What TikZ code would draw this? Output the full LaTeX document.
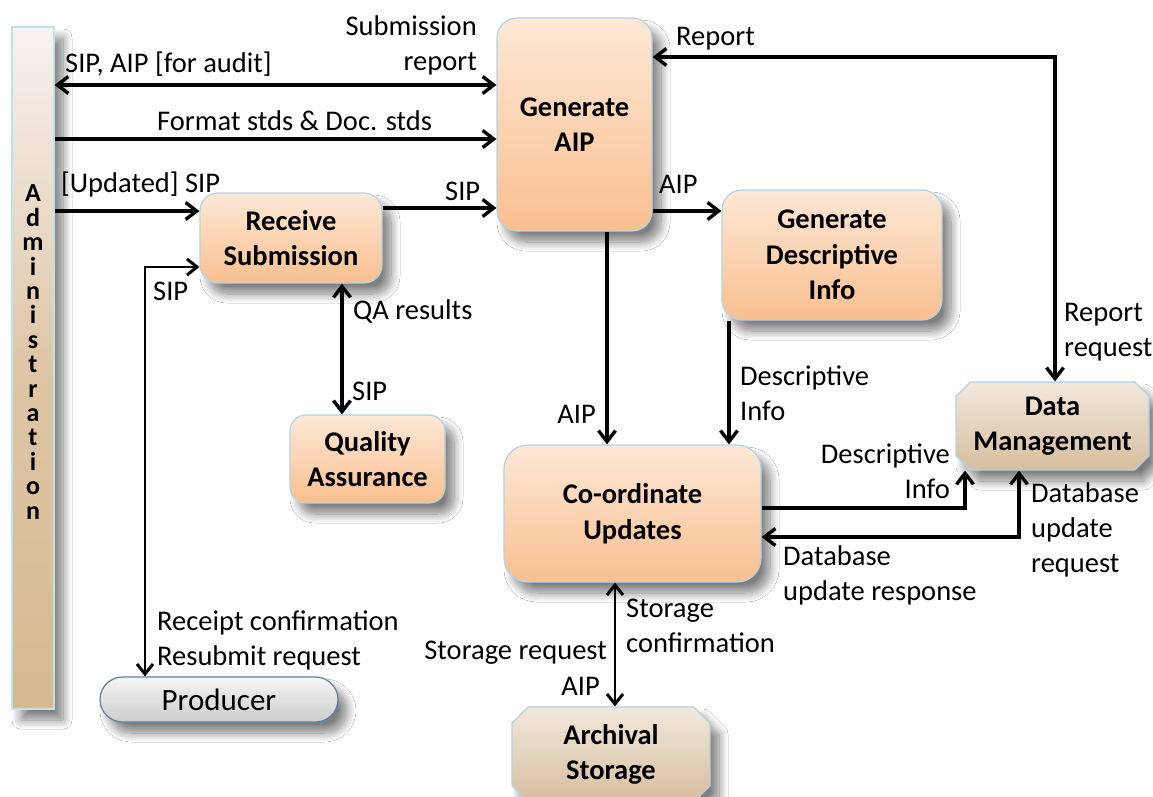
\documentclass[tikz,border=0pt]{standalone}
\usepackage{fontspec}
\setmainfont{Carlito}
\usetikzlibrary{arrows.meta,shapes.misc,shadows.blur}

\definecolor{peachtop}{HTML}{FDE8D6}
\definecolor{peachbot}{HTML}{F9BF8F}
\definecolor{peachrim}{HTML}{B5D3E4}
\definecolor{tantop}{HTML}{F2E8DC}
\definecolor{tanbot}{HTML}{D6BE9E}
\definecolor{admtop}{HTML}{F8F2F0}
\definecolor{admmid}{HTML}{DEC6A6}
\definecolor{admbot}{HTML}{D6B992}
\definecolor{admrim}{HTML}{BFE3EA}
\definecolor{greytop}{HTML}{F6F6F6}
\definecolor{greybot}{HTML}{CCCCCC}
\definecolor{greyrim}{HTML}{5F7FA6}

\newcommand\lblfont{\fontsize{28.5}{35}\selectfont}
\newcommand\boxfont{\bfseries\fontsize{28.5}{35.5}\selectfont}

\tikzset{
  boxshadow/.style={blur shadow={shadow xshift=9pt, shadow yshift=-11pt,
      shadow blur radius=9pt, shadow blur steps=12, shadow opacity=50}},
  proc/.style={draw=peachrim, line width=1.2pt, rounded corners=20pt,
      top color=peachtop, bottom color=peachbot, boxshadow,
      align=center, inner sep=0pt, font=\boxfont},
  store/.style={chamfered rectangle, chamfered rectangle xsep=11pt,
      draw=peachrim, line width=1.2pt, top color=tantop, bottom color=tanbot,
      boxshadow, align=center, inner sep=0pt, font=\boxfont},
  actor/.style={rounded rectangle, draw=greyrim, line width=1.2pt,
      top color=greytop, bottom color=greybot, boxshadow,
      align=center, inner sep=0pt, font=\fontsize{31}{36}\selectfont},
  lbl/.style={inner sep=0pt, font=\lblfont},
  flow/.style={line width=3.3pt,
      >={Straight Barb[length=11pt, width=17pt, line width=3.4pt]}},
  thinflow/.style={line width=2.6pt,
      >={Straight Barb[length=10pt, width=16pt, line width=3pt]}},
}

\begin{document}
\begin{tikzpicture}[x=1pt, y=-1pt]
\useasboundingbox (0,0) rectangle (1153,797);
\fill[white] (0,0) rectangle (1153,797);

% administration bar
\node[chamfered rectangle, chamfered rectangle xsep=10pt, draw=admrim,
      line width=1.2pt, top color=admtop, bottom color=admbot, middle color=admmid,
      boxshadow, minimum width=42pt, minimum height=682pt, inner sep=0pt]
      (adm) at (33,368) {};
\node[inner sep=0pt, align=center, font=\bfseries\fontsize{26}{24.4}\selectfont]
      (admtxt) at (33,352) {A\\d\\m\\i\\n\\i\\s\\t\\r\\a\\t\\i\\o\\n};

% processes
\node[proc, minimum width=155pt, minimum height=213pt] (gaip) at (574.5,124.5) {Generate\\AIP};
\node[proc, rounded corners=18pt, minimum width=182pt, minimum height=90pt] (recv) at (291,238) {Receive\\Submission};
\node[proc, minimum width=220pt, minimum height=130pt] (gdesc) at (832,255) {Generate\\Descriptive\\Info};
\node[proc, rounded corners=16pt, minimum width=155pt, minimum height=88pt] (qa) at (367.5,459) {Quality\\Assurance};
\node[proc, rounded corners=24pt, minimum width=257pt, minimum height=137pt] (coord) at (632.5,513.5) {Co-ordinate\\Updates};

% stores and actor
\node[store, minimum width=193pt, minimum height=88pt] (dm) at (1052.5,426) {Data\\Management};
\node[store, chamfered rectangle xsep=13pt, minimum width=198pt, minimum height=95pt] (arch) at (611,754.5) {Archival\\Storage};
\node[actor, minimum width=238pt, minimum height=45pt] (prod) at (219,699.5) {Producer};

% flows
\draw[flow,<->] (adm.east |- 0,85) -- (gaip.west |- 0,85);
\draw[flow,->] (adm.east |- 0,139) -- (gaip.west |- 0,139);
\draw[flow,->] (adm.east |- 0,211) -- (recv.west |- 0,211);
\draw[flow,->] (recv.east |- 0,208) -- (gaip.west |- 0,208);
\draw[thinflow,<->] (recv.west |- 0,267) -| (prod.north -| 145,0);
\draw[flow,<->] (recv.south -| 342,0) -- (qa.north -| 342,0);
\draw[flow,->] (gaip.east |- 0,211) -- (gdesc.west |- 0,211);
\draw[flow,->] (gaip.south -| 607,0) -- (coord.north -| 607,0);
\draw[flow,->] (gdesc.south -| 729,0) -- (coord.north -| 729,0);
\draw[flow,<->] (gaip.east |- 0,57) -| (dm.north -| 1055,0);
\draw[flow,->] (coord.east |- 0,508) -| (dm.south -| 965,0);
\draw[flow,<->] (coord.east |- 0,537) -| (dm.south -| 1019,0);
\draw[thinflow,<->] (coord.south -| 615,0) -- (arch.north -| 615,0);

% flow labels
\node[lbl, anchor=east, align=right] (lsubrep) at (477,45.5) {Submission\\report};
\node[lbl, anchor=west] (laudit) at (65,64) {SIP, AIP [for audit]};
\node[lbl, anchor=west] (lstds) at (157,121) {Format stds \& Doc. stds};
\node[lbl, anchor=west] (lupd) at (61,184) {[Updated] SIP};
\node[lbl, anchor=west] (lsip1) at (445,191) {SIP};
\node[lbl, anchor=west] (lsip2) at (153,291) {SIP};
\node[lbl, anchor=west] (lqa) at (353,311) {QA results};
\node[lbl, anchor=west] (lsip3) at (352,391) {SIP};
\node[lbl, anchor=west, align=left] (lreceipt) at (157,640) {Receipt confirmation\\Resubmit request};
\node[lbl, anchor=west] (lreport) at (676,39) {Report};
\node[lbl, anchor=west] (laip1) at (659,184) {AIP};
\node[lbl, anchor=east] (laip2) at (596,414) {AIP};
\node[lbl, anchor=west, align=left] (ldesc1) at (740,393) {Descriptive\\Info};
\node[lbl, anchor=west, align=left] (lrepreq) at (1064,332) {Report\\request};
\node[lbl, anchor=east, align=right] (ldesc2) at (950,471) {Descriptive\\Info};
\node[lbl, anchor=west, align=left] (ldbreq) at (1031,530) {Database\\update\\request};
\node[lbl, anchor=west, align=left] (ldbresp) at (783,575.5) {Database\\update response};
\node[lbl, anchor=west, align=left] (lstconf) at (626,626) {Storage\\confirmation};
\node[lbl, anchor=east] (lstreq) at (607,653) {Storage request};
\node[lbl, anchor=east] (laip3) at (600,686) {AIP};
\end{tikzpicture}
\end{document}
